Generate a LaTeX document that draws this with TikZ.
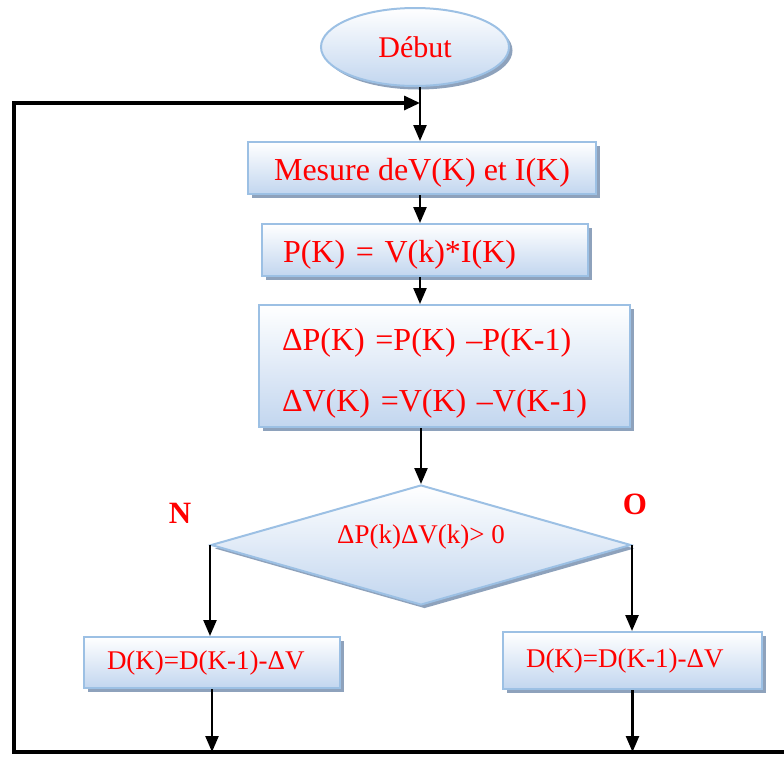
\documentclass[tikz,border=0pt]{standalone}
\usepackage{fontspec}
\setmainfont{Liberation Serif}
\usetikzlibrary{shapes.geometric,shadows,arrows.meta}
\definecolor{bordc}{HTML}{9CC0E4}
\definecolor{shadc}{HTML}{8EA2BC}
\definecolor{topc}{HTML}{FFFFFF}
\definecolor{botc}{HTML}{C2D6EF}
\definecolor{txtc}{HTML}{FF0000}
\newcommand{\lowr}[2]{\raisebox{#1}[\height][\depth]{#2}}
\tikzset{
  base/.style={draw=bordc, line width=2pt, top color=topc, bottom color=botc, text=txtc,
    drop shadow={shadow xshift=3.5pt, shadow yshift=-3.5pt, fill=shadc, opacity=1}},
  boxc/.style={base, rectangle, inner sep=0pt},
  arr/.style={line width=2.4pt, -{Triangle[length=16pt,width=13pt]}},
  loopl/.style={line width=3.2pt, -{Triangle[length=16pt,width=14pt]}},
  lab/.style={text=txtc, font=\bfseries\fontsize{31}{36}\selectfont}
}
\begin{document}
\begin{tikzpicture}[x=1pt,y=-1pt]
\useasboundingbox (0,0) rectangle (784,756);
\coordinate (xm) at (420,0);
\coordinate (lp) at (14,103);
\coordinate (bl) at (14,752);
\coordinate (br) at (784,752);

\node[base, ellipse, minimum width=188pt, minimum height=78pt, inner sep=0pt,
  font=\fontsize{30}{36}\selectfont] (deb) at (415,47) {Début\hspace{34pt}};

\node[boxc, minimum width=348pt, minimum height=52pt, align=center,
  font=\fontsize{32}{38}\selectfont] (b1) at (422,168) {\lowr{-5pt}{Mesure deV(K) et I(K)}};

\node[boxc, minimum width=326pt, minimum height=52pt, inner xsep=21pt, text width=284pt, align=left,
  font=\fontsize{32}{38}\selectfont] (b2) at (425,250) {\lowr{-5pt}{P(K) = V(k)*I(K)}};

\node[boxc, minimum width=371pt, minimum height=120pt, inner xsep=23pt, text width=325pt, align=left,
  font=\fontsize{32}{61}\selectfont] (b3) at (444.5,366)
  {\lowr{-3pt}{\begin{tabular}{@{}l@{}}ΔP(K) =P(K) –P(K-1)\\ΔV(K) =V(K) –V(K-1)\end{tabular}}};

\node[base, diamond, aspect=3.5, minimum width=420pt, minimum height=120pt, inner sep=0pt,
  font=\fontsize{27}{32}\selectfont] (dec) at (421,545) {\lowr{8pt}{ΔP(k)ΔV(k)> 0}\hspace{20pt}};

\node[boxc, minimum width=256pt, minimum height=51pt, inner xsep=23pt, text width=210pt, align=left,
  font=\fontsize{27}{32}\selectfont] (b4) at (212,662.5) {D(K)=D(K-1)-ΔV};

\node[boxc, minimum width=259pt, minimum height=57pt, inner xsep=23pt, text width=213pt, align=left,
  font=\fontsize{27}{32}\selectfont] (b5) at (632.5,660.5) {D(K)=D(K-1)-ΔV};

\node[lab] (nlab) at (180,513) {N};
\node[lab] (olab) at (635,504) {O};

\draw[arr] (deb.south -| xm) -- (b1.north -| xm);
\draw[loopl] (br) -- (bl) -- (lp) -- (lp -| xm);
\draw[arr] (b1.south -| xm) -- (b2.north -| xm);
\draw[arr] (b2.south -| xm) -- (b3.north -| xm);
\draw[arr] (b3.south -| dec.north) -- (dec.north);
\draw[arr] (dec.west) -- (dec.west |- b4.north);
\draw[arr] (dec.east) -- (dec.east |- b5.north);
\draw[arr] (b4.south) -- (b4.south |- bl);
\draw[arr] (b5.south) -- (b5.south |- bl);
\end{tikzpicture}
\end{document}
